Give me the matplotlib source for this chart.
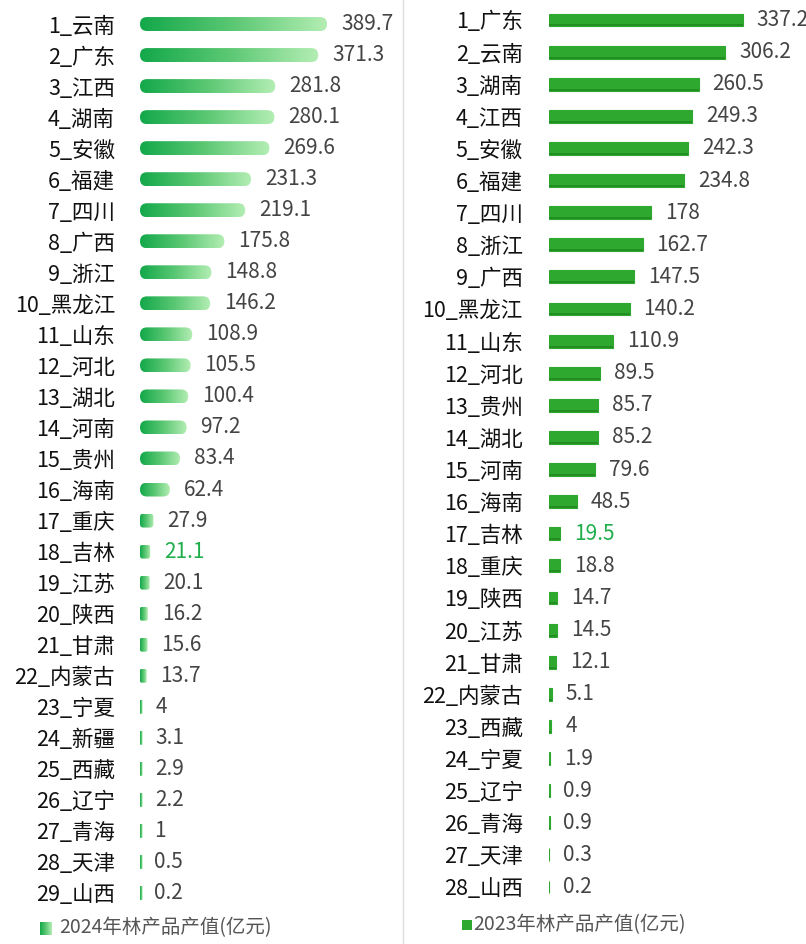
import matplotlib.pyplot as plt
import numpy as np
from matplotlib.patches import FancyBboxPatch
from matplotlib.colors import LinearSegmentedColormap
from matplotlib.lines import Line2D

plt.rcParams['font.family'] = ['Noto Sans CJK SC', 'DejaVu Sans']

# 2024 data
prov_2024 = ['云南', '广东', '江西', '湖南', '安徽', '福建', '四川', '广西', '浙江', '黑龙江',
             '山东', '河北', '湖北', '河南', '贵州', '海南', '重庆', '吉林', '江苏', '陕西',
             '甘肃', '内蒙古', '宁夏', '新疆', '西藏', '辽宁', '青海', '天津', '山西']
val_2024 = [389.7, 371.3, 281.8, 280.1, 269.6, 231.3, 219.1, 175.8, 148.8, 146.2,
            108.9, 105.5, 100.4, 97.2, 83.4, 62.4, 27.9, 21.1, 20.1, 16.2,
            15.6, 13.7, 4, 3.1, 2.9, 2.2, 1, 0.5, 0.2]

# 2023 data
prov_2023 = ['广东', '云南', '湖南', '江西', '安徽', '福建', '四川', '浙江', '广西', '黑龙江',
             '山东', '河北', '贵州', '湖北', '河南', '海南', '吉林', '重庆', '陕西', '江苏',
             '甘肃', '内蒙古', '西藏', '宁夏', '辽宁', '青海', '天津', '山西']
val_2023 = [337.2, 306.2, 260.5, 249.3, 242.3, 234.8, 178, 162.7, 147.5, 140.2,
            110.9, 89.5, 85.7, 85.2, 79.6, 48.5, 19.5, 18.8, 14.7, 14.5,
            12.1, 5.1, 4, 1.9, 0.9, 0.9, 0.3, 0.2]

highlight = '吉林'
legend_2024 = '2024年林产品产值(亿元)'
legend_2023 = '2023年林产品产值(亿元)'

W, H = 806, 944
C = {'text': '#111111', 'val': '#444444', 'hl': '#1fae4b', 'legend': '#555555',
     'bar23': '#2ea82e', 'bar23_dark': '#238f23', 'div': '#dddddd'}
grad_cmap = LinearSegmentedColormap.from_list('g', ['#13a84a', '#5cc874', '#b4eeb4'])

fig = plt.figure(figsize=(W / 100, H / 100), dpi=100)


def px_axes(left, top, width, height):
    return fig.add_axes([left / W, (H - top - height) / H, width / W, height / H])


def style(ax, names, vals, pad):
    n = len(names)
    ax.set_yticks(range(n))
    ax.set_yticklabels([f'{i + 1}_{p}' for i, p in enumerate(names)], fontsize=15.5, color=C['text'])
    ax.tick_params(axis='y', length=0, pad=pad)
    ax.set_xticks([])
    for s in ax.spines.values():
        s.set_visible(False)
    for i, (v, p) in enumerate(zip(vals, names)):
        ax.annotate(f'{v:g}', (v, i), xytext=(10, 0), textcoords='offset points',
                    va='center', ha='left', fontsize=15,
                    color=C['hl'] if p == highlight else C['val'], annotation_clip=False)


# ---- left panel (2024): rounded gradient bars
axL = px_axes(140, 8.5, 260, 900)
px_per_unit = 0.48
xmaxL = 260 / px_per_unit
hL = 0.45
barsL = axL.barh(range(len(val_2024)), val_2024, height=hL, color='none')
row_px = 900 / len(val_2024)
r_px = hL * row_px / 2
grad = np.linspace(0, 1, 256).reshape(1, -1)
min_w = 2.5 / px_per_unit
for b in barsL:
    x0, y0, w, h = b.get_x(), b.get_y(), b.get_width(), b.get_height()
    w = max(w, min_w)
    r = min(r_px / px_per_unit, w / 4)
    aspect = (h / 2) / (r_px / px_per_unit)
    patch = FancyBboxPatch((x0, y0), w, h, boxstyle=f'round,pad=0,rounding_size={r}',
                           mutation_aspect=aspect, facecolor='none', edgecolor='none')
    axL.add_patch(patch)
    im = axL.imshow(grad, extent=[x0, x0 + w, y0 + h, y0], aspect='auto', cmap=grad_cmap)
    im.set_clip_path(patch)
axL.set_xlim(0, xmaxL)
axL.set_ylim(len(val_2024) - 0.5, -0.5)
style(axL, prov_2024, val_2024, 18)

# ---- right panel (2023): solid bars with darker lower edge
axR = px_axes(549, 3.94, 257, 899.1)
xmaxR = 257 / 0.575
hR = 0.4
axR.barh(range(len(val_2023)), val_2023, height=hR, color=C['bar23'],
         edgecolor=C['bar23'], linewidth=0.8)
axR.barh(np.arange(len(val_2023)) + hR / 2 - 0.03, val_2023, height=0.06,
         color=C['bar23_dark'], linewidth=0)
axR.set_xlim(0, xmaxR)
axR.set_ylim(len(val_2023) - 0.5, -0.5)
style(axR, prov_2023, val_2023, 19)

# divider
fig.add_artist(Line2D([403 / W, 403 / W], [0, 1], color=C['div'], linewidth=1))

# legends
lg = px_axes(40, 922, 12, 13)
lg.imshow(grad, aspect='auto', cmap=grad_cmap, extent=[0, 1, 0, 1])
lg.axis('off')
fig.text(59 / W, 1 - 928 / H, legend_2024, fontsize=14, color=C['legend'], va='center', ha='left')

lg2 = px_axes(462, 920, 10, 10)
lg2.set_facecolor(C['bar23'])
lg2.set_xticks([]); lg2.set_yticks([])
for s in lg2.spines.values():
    s.set_visible(False)
fig.text(473 / W, 1 - 925 / H, legend_2023, fontsize=14, color=C['legend'], va='center', ha='left')

fig.savefig('out.png', dpi=100, facecolor='white')
